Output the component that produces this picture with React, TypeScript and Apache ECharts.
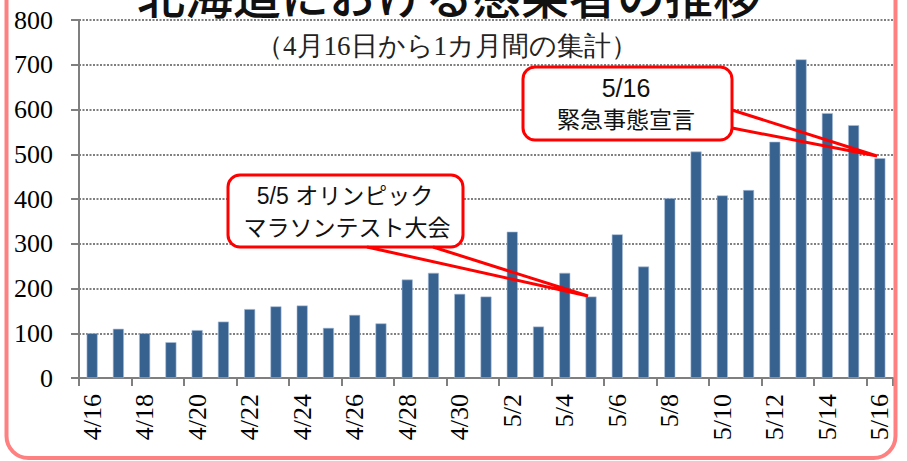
import React, { useEffect, useRef } from "react";
import * as echarts from "echarts";

const categories = [
  "4/16", "4/17", "4/18", "4/19", "4/20", "4/21", "4/22", "4/23", "4/24", "4/25",
  "4/26", "4/27", "4/28", "4/29", "4/30", "5/1", "5/2", "5/3", "5/4", "5/5",
  "5/6", "5/7", "5/8", "5/9", "5/10", "5/11", "5/12", "5/13", "5/14", "5/15", "5/16",
];
const cases = [
  100, 110, 100, 80, 107, 126, 154, 160, 162, 112,
  141, 122, 220, 235, 188, 182, 327, 115, 235, 182,
  321, 249, 402, 506, 408, 420, 528, 712, 592, 565, 491,
];
const yTicks = { min: 0, max: 800, interval: 100 };
const titleText = "北海道における感染者の推移";
const subtitleText = "（4月16日から1カ月間の集計）";
const note1 = ["5/5 オリンピック", "マラソンテスト大会"];
const note2 = ["5/16", "緊急事態宣言"];

const SERIF = "Liberation Serif, Times New Roman, serif";
const GOTHIC = "Liberation Sans, Noto Sans CJK JP, sans-serif";
const RED = "#ff0000";

export default function App() {
  const ref = useRef<HTMLDivElement>(null);
  useEffect(() => {
    if (!ref.current) return;
    const chart = echarts.init(ref.current, undefined, { renderer: "svg" });
    chart.setOption({
      animation: false,
      backgroundColor: "#ffffff",
      grid: { left: 79, right: 14, top: 20, bottom: 83, containLabel: false },
      xAxis: {
        type: "category",
        data: categories,
        boundaryGap: true,
        axisLine: { lineStyle: { color: "#7f7f7f", width: 2 } },
        axisTick: { show: true, interval: 1, length: 8, lineStyle: { color: "#7f7f7f", width: 2 } },
        axisLabel: {
          interval: 1,
          rotate: 90,
          margin: 16,
          color: "#000",
          fontFamily: SERIF,
          fontSize: 26,
        },
      },
      yAxis: {
        type: "value",
        min: yTicks.min,
        max: yTicks.max,
        interval: yTicks.interval,
        axisLine: { show: true, lineStyle: { color: "#7f7f7f", width: 2 } },
        axisTick: { show: true, length: 8, lineStyle: { color: "#7f7f7f", width: 2 } },
        axisLabel: { margin: 26, color: "#000", fontFamily: SERIF, fontSize: 26 },
        splitLine: {
          show: true,
          lineStyle: { color: "#555", width: 1.6, type: [2, 1.5] },
        },
      },
      series: [
        {
          type: "bar",
          data: cases,
          barWidth: 11,
          itemStyle: { color: "#37618f", borderColor: "#a9bfdc", borderWidth: 0.6 },
        },
      ],
      graphic: [
        {
          type: "text",
          x: 449,
          y: -7,
          style: {
            text: titleText,
            fontFamily: "Noto Sans CJK JP",
            fontWeight: 500,
            fontSize: 48,
            fill: "#111",
            align: "center",
            verticalAlign: "middle",
          },
          z: 10,
        },
        {
          type: "text",
          x: 447,
          y: 46,
          style: {
            text: subtitleText,
            fontFamily: SERIF,
            fontSize: 27,
            fill: "#222",
            align: "center",
            verticalAlign: "middle",
          },
          z: 10,
        },
        {
          type: "rect",
          shape: { x: 228, y: 175, width: 235, height: 72, r: 12 },
          style: { fill: "#fff", stroke: RED, lineWidth: 3 },
          z: 20,
        },
        {
          type: "polyline",
          shape: { points: [[367, 247], [588, 296], [433, 247]] },
          style: { fill: null, stroke: RED, lineWidth: 3, lineJoin: "miter" },
          z: 20,
        },
        {
          type: "text",
          x: 345,
          y: 196,
          style: { text: note1[0], fontFamily: GOTHIC, fontSize: 23, fill: "#111", align: "center", verticalAlign: "middle" },
          z: 21,
        },
        {
          type: "text",
          x: 347,
          y: 228,
          style: { text: note1[1], fontFamily: GOTHIC, fontSize: 23, fill: "#111", align: "center", verticalAlign: "middle" },
          z: 21,
        },
        {
          type: "rect",
          shape: { x: 523, y: 67, width: 209, height: 73, r: 12 },
          style: { fill: "#fff", stroke: RED, lineWidth: 3 },
          z: 20,
        },
        {
          type: "polyline",
          shape: { points: [[732, 110], [877, 156], [732, 128]] },
          style: { fill: null, stroke: RED, lineWidth: 3, lineJoin: "miter" },
          z: 20,
        },
        {
          type: "text",
          x: 626,
          y: 88,
          style: { text: note2[0], fontFamily: GOTHIC, fontSize: 25, fill: "#111", align: "center", verticalAlign: "middle" },
          z: 21,
        },
        {
          type: "text",
          x: 626,
          y: 120,
          style: { text: note2[1], fontFamily: GOTHIC, fontSize: 23, fill: "#111", align: "center", verticalAlign: "middle" },
          z: 21,
        },
        {
          type: "rect",
          shape: { x: 6.5, y: -40, width: 889, height: 498, r: 22 },
          style: { fill: null, stroke: "#ff8080", lineWidth: 4 },
          z: 30,
        },
      ],
    });
    return () => chart.dispose();
  }, []);
  return (
    <div
      ref={ref}
      style={{ position: "fixed", left: 0, top: 0, width: 907, height: 461 }}
    />
  );
}
